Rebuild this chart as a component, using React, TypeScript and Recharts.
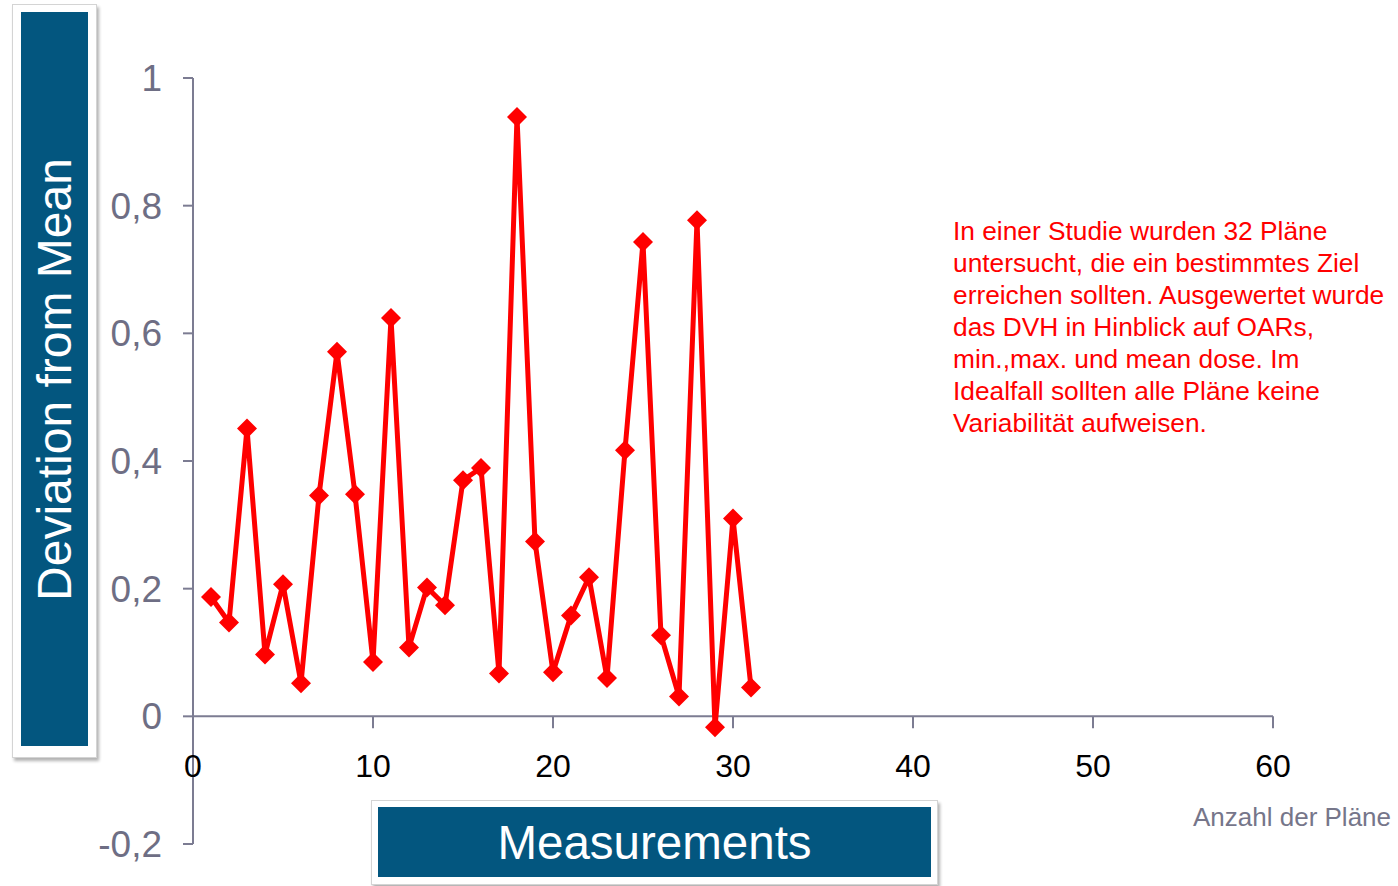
import { LineChart, Line, XAxis, YAxis, ReferenceLine } from "recharts";

const planNumbers = [
  1, 2, 3, 4, 5, 6, 7, 8, 9, 10, 11, 12, 13, 14, 15, 16,
  17, 18, 19, 20, 21, 22, 23, 24, 25, 26, 27, 28, 29, 30, 31,
];
const deviations = [
  0.187, 0.147, 0.451, 0.097, 0.207, 0.052, 0.346, 0.571, 0.348, 0.085, 0.624,
  0.108, 0.202, 0.174, 0.37, 0.389, 0.067, 0.939, 0.274, 0.069, 0.158, 0.218,
  0.06, 0.417, 0.743, 0.127, 0.031, 0.777, -0.017, 0.31, 0.045,
];
const xTicks = [0, 10, 20, 30, 40, 50, 60];
const yTicks = [-0.2, 0, 0.2, 0.4, 0.6, 0.8, 1];
const noteLines = [
  "In einer Studie wurden 32 Pläne",
  "untersucht, die ein bestimmtes Ziel",
  "erreichen sollten. Ausgewertet wurde",
  "das DVH in Hinblick auf OARs,",
  "min.,max. und mean dose. Im",
  "Idealfall sollten alle Pläne keine",
  "Variabilität aufweisen.",
];

const W = 1398;
const H = 886;
const TOP = 78;
const BOTTOM = 12;
const X_AXIS_H = 30;
const Y_MIN = -0.2;
const Y_MAX = 1;
const PLOT_H = H - TOP - BOTTOM - X_AXIS_H;
// distance from plot bottom up to the y = 0 line
const ZERO_OFFSET = (PLOT_H * (0 - Y_MIN)) / (Y_MAX - Y_MIN);

const AXIS = "#7c7c92";
const LABEL = "#6e6e84";
const BLUE = "#03567f";
const FONT = "'Liberation Sans', Arial, sans-serif";

const data = planNumbers.map((plan, i) => ({ plan, deviation: deviations[i] }));

function Diamond(props: any) {
  const { cx, cy, index } = props;
  if (cx == null || cy == null) return null;
  const r = 10;
  return (
    <polygon
      key={`d-${index}`}
      points={`${cx},${cy - r} ${cx + r},${cy} ${cx},${cy + r} ${cx - r},${cy}`}
      fill="#ff0000"
    />
  );
}

function XTick(props: any) {
  const { x, y, payload } = props;
  const zeroY = y - ZERO_OFFSET;
  return (
    <g>
      <line x1={x} x2={x} y1={zeroY} y2={zeroY + 12} stroke={AXIS} strokeWidth={2} />
      <text
        x={x}
        y={zeroY + 49}
        dy="0.355em"
        textAnchor="middle"
        fill="#000"
        fontSize={32}
        fontFamily={FONT}
      >
        {payload.value}
      </text>
    </g>
  );
}

export default function App() {
  return (
    <div style={{ position: "absolute", left: 0, top: 0, width: W, height: H, background: "#fff", fontFamily: FONT }}>
      <LineChart
        width={W}
        height={H}
        data={data}
        margin={{ top: TOP, right: 125, bottom: BOTTOM, left: 93 }}
      >
        <XAxis
          dataKey="plan"
          type="number"
          domain={[0, 60]}
          ticks={xTicks}
          height={X_AXIS_H}
          axisLine={false}
          tickLine={false}
          tickSize={0}
          tickMargin={0}
          tick={<XTick />}
          interval={0}
        />
        <YAxis
          type="number"
          domain={[Y_MIN, Y_MAX]}
          ticks={yTicks}
          width={100}
          interval={0}
          axisLine={{ stroke: AXIS, strokeWidth: 2 }}
          tickLine={{ stroke: AXIS, strokeWidth: 2 }}
          tickSize={10}
          tickMargin={21}
          tick={{ fill: LABEL, fontSize: 37, fontFamily: FONT }}
          tickFormatter={(v: number) => String(Math.round(v * 10) / 10).replace(".", ",")}
        />
        <ReferenceLine y={0} stroke={AXIS} strokeWidth={2} />
        <Line
          dataKey="deviation"
          stroke="#ff0000"
          strokeWidth={5}
          dot={<Diamond />}
          activeDot={false}
          isAnimationActive={false}
        />
      </LineChart>

      {/* y axis title box */}
      <div
        style={{
          position: "absolute", left: 12, top: 4, width: 85, height: 754,
          background: "#fff", border: "1px solid #d4d4d4", boxSizing: "border-box",
          boxShadow: "2px 3px 3px rgba(0,0,0,0.3)",
        }}
      />
      <div
        style={{
          position: "absolute", left: 21, top: 12, width: 67, height: 734, background: BLUE,
          display: "flex", alignItems: "center", justifyContent: "center", overflow: "hidden",
        }}
      >
        <div style={{ transform: "rotate(-90deg)", whiteSpace: "nowrap", color: "#fff", fontSize: 48 }}>
          Deviation from Mean
        </div>
      </div>

      {/* x axis title box */}
      <div
        style={{
          position: "absolute", left: 371, top: 800, width: 567, height: 85,
          background: "#fff", border: "1px solid #d4d4d4", boxSizing: "border-box",
          boxShadow: "2px 3px 3px rgba(0,0,0,0.3)",
        }}
      />
      <div
        style={{
          position: "absolute", left: 378, top: 807, width: 553, height: 70, background: BLUE,
          color: "#fff", fontSize: 47.5, display: "flex", alignItems: "center", justifyContent: "center",
        }}
      >
        Measurements
      </div>

      {/* note */}
      <div style={{ position: "absolute", left: 953, top: 215, color: "#ff0000", fontSize: 26.3, lineHeight: "32px", whiteSpace: "nowrap" }}>
        {noteLines.map((l) => (
          <div key={l}>{l}</div>
        ))}
      </div>

      <div style={{ position: "absolute", left: 1193, top: 801, color: "#76768a", fontSize: 26, lineHeight: "32px", whiteSpace: "nowrap" }}>
        Anzahl der Pläne
      </div>
    </div>
  );
}
